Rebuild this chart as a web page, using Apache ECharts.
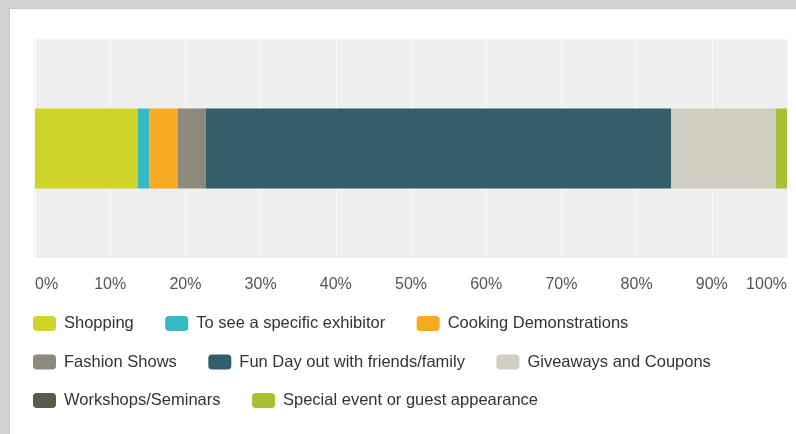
<!DOCTYPE html>
<html>
<head>
<meta charset="utf-8">
<script src="https://cdn.jsdelivr.net/npm/echarts@6/dist/echarts.min.js"></script>
<style>
  html, body { margin: 0; padding: 0; background: #d3d3d3; }
  #panel { position: absolute; left: 10px; top: 9px; width: 800px; height: 440px; background: #fff; box-shadow: -1px -1px 2px #c4c4c4; }
  #chart { position: absolute; left: 0; top: 0; width: 796px; height: 434px; }
</style>
</head>
<body>
<div id="panel"></div>
<div id="chart"></div>
<script>
var categories = ["Reasons"];
var seriesNames = [
  "Shopping",
  "To see a specific exhibitor",
  "Cooking Demonstrations",
  "Fashion Shows",
  "Fun Day out with friends/family",
  "Giveaways and Coupons",
  "Workshops/Seminars",
  "Special event or guest appearance"
];
var seriesValues = [13.7, 1.5, 3.8, 3.7, 61.9, 13.9, 0, 1.5];
var seriesColors = ["#cfd429", "#35b9c4", "#f6aa1f", "#8b8a7b", "#335f6c", "#d0cfc1", "#5a5b48", "#abbf34"];
var tickLabels = ["0%", "10%", "20%", "30%", "40%", "50%", "60%", "70%", "80%", "90%", "100%"];
var legendRows = [
  ["Shopping", "To see a specific exhibitor", "Cooking Demonstrations"],
  ["Fashion Shows", "Fun Day out with friends/family", "Giveaways and Coupons"],
  ["Workshops/Seminars", "Special event or guest appearance"]
];

var myChart = echarts.init(document.getElementById("chart"));

var font = "'Liberation Sans', Arial, sans-serif";

var series = seriesNames.map(function (name, i) {
  return {
    name: name,
    type: "bar",
    stack: "total",
    barWidth: 80,
    itemStyle: { color: seriesColors[i] },
    data: [seriesValues[i]]
  };
});

// one legend per row so the row spacing can differ from the item gap
var legends = legendRows.map(function (row, r) {
  return {
    data: row,
    left: 33,
    top: 315 + r * 38.5,
    padding: 0,
    orient: "horizontal",
    itemWidth: 23,
    itemHeight: 15,
    itemGap: 31.5,
    icon: "roundRect",
    selectedMode: false,
    textStyle: {
      color: "#333",
      fontSize: 16.5,
      fontFamily: font,
      padding: [0, 0, 0, 3]
    }
  };
});

var option = {
  animation: false,
  backgroundColor: "transparent",
  legend: legends,
  grid: {
    left: 35,
    right: 9,
    top: 40,
    height: 217,
    show: true,
    backgroundColor: "#efefef",
    borderColor: "#e4e4e4",
    borderWidth: 1
  },
  xAxis: {
    type: "value",
    min: 0,
    max: 100,
    interval: 10,
    axisLine: { show: false },
    axisTick: { show: false },
    splitLine: { show: true, lineStyle: { color: "#fbfbfb", width: 1 } },
    axisLabel: {
      color: "#555",
      fontSize: 16,
      fontFamily: font,
      margin: 20,
      alignMinLabel: "left",
      alignMaxLabel: "right",
      formatter: function (v) {
        return tickLabels[Math.round(v / 10)];
      }
    }
  },
  yAxis: {
    type: "category",
    data: categories,
    show: false
  },
  series: series
};

myChart.setOption(option);
</script>
</body>
</html>
